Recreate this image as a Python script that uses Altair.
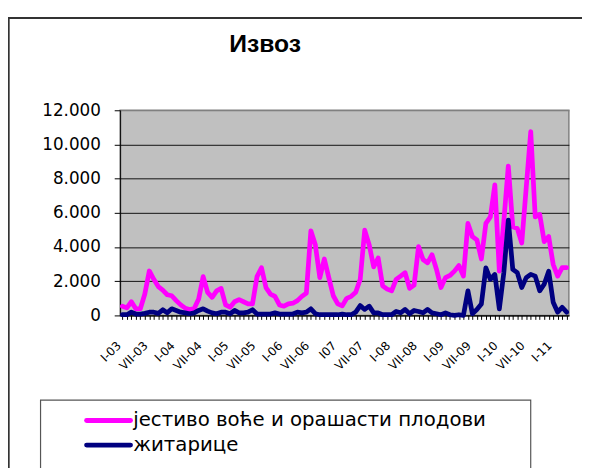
import altair as alt
import pandas as pd

roman = ["I", "II", "III", "IV", "V", "VI", "VII", "VIII", "IX", "X", "XI", "XII"]
years = ["03", "04", "05", "06", "07", "08", "09", "10", "11"]

chart_title = "Извоз"
series_names = ["јестиво воће и орашасти плодови", "житарице"]
series_colors = ["#FF00FF", "#000080"]

fruit = [540, 440, 800, 385, 390, 1250, 2600, 2110, 1690, 1480,
         1210, 1150, 865, 615, 425, 345, 400, 960, 2270, 1350,
         1060, 1440, 1580, 615, 480, 800, 920, 800, 675, 675,
         2270, 2790, 1630, 1250, 1115, 615, 540, 675, 715, 865,
         1115, 1310, 4950, 4130, 2210, 3300, 2210, 1150, 675, 560,
         1000, 1115, 1350, 2110, 4990, 4130, 2840, 3360, 1730, 1540,
         1440, 2110, 2300, 2500, 1580, 1770, 4030, 3270, 3075, 3550,
         2690, 1630, 2210, 2340, 2590, 2920, 2300, 5380, 4610, 4420,
         3300, 5380, 5760, 7640, 2590, 5500, 8740, 5180, 5090, 4230,
         7500, 10750, 5760, 5910, 4320, 4610, 2980, 2300, 2790, 2790]

grain = [40, 40, 190, 80, 80, 120, 190, 190, 120, 330,
         150, 385, 290, 190, 150, 100, 150, 290, 385, 250,
         150, 100, 190, 190, 100, 290, 150, 150, 190, 330,
         80, 80, 80, 80, 150, 80, 80, 80, 80, 190,
         150, 190, 385, 100, 40, 40, 40, 40, 40, 80,
         40, 40, 190, 575, 350, 540, 150, 150, 40, 40,
         40, 230, 150, 350, 100, 290, 230, 150, 350, 150,
         100, 40, 150, 40, 0, 40, 0, 1440, 100, 350,
         670, 2780, 2110, 2400, 385, 2500, 5570, 2690, 2500, 1630,
         2210, 2400, 2300, 1440, 1825, 2590, 770, 190, 480, 190]

y_ticks = [0, 2000, 4000, 6000, 8000, 10000, 12000]

months = [f"{r}-{y}" for y in years for r in roman][:len(fruit)]
months[48] = "I07"

rows = []
for i, m in enumerate(months):
    rows.append({"month": m, "series": series_names[0], "value": fruit[i]})
    rows.append({"month": m, "series": series_names[1], "value": grain[i]})
df = pd.DataFrame(rows)

W, H = 455, 208

x_enc = alt.X(
    "month:N", sort=months,
    scale=alt.Scale(type="point", padding=0.5),
    axis=alt.Axis(
        title=None, labelAngle=-45, labelAlign="right", labelBaseline="middle",
        labelExpr="test(/^(I|VII)-?[0-9][0-9]$/, datum.label) ? datum.label : ''",
        labelFont="DejaVu Sans", labelFontSize=12, labelColor="black",
        labelOverlap=False, labelPadding=24, labelOffset=-4,
        tickColor="black", tickSize=4, domainColor="black", grid=False,
    ),
)
y_enc = alt.Y(
    "value:Q",
    scale=alt.Scale(domain=[0, 12000]),
    axis=alt.Axis(
        title=None, values=y_ticks,
        labelExpr="replace(format(datum.value, ','), ',', '.')",
        labelFont="DejaVu Sans", labelFontSize=17, labelColor="black", labelPadding=14,
        tickColor="black", tickSize=6, domainColor="black",
        gridColor={"condition": {"test": "datum.value == 12000", "value": "#808080"}, "value": "#111111"},
        gridWidth=1,
    ),
)
color_enc = alt.Color(
    "series:N",
    scale=alt.Scale(domain=series_names, range=series_colors),
    legend=None,
)

base = alt.Chart(df)
layers = []
for name in series_names:
    layers.append(
        base.transform_filter(alt.datum.series == name).mark_line(
            strokeWidth=4.8, strokeJoin="round", strokeCap="round"
        ).encode(x=x_enc, y=y_enc, color=color_enc)
    )

# legend (drawn as marks so that the row spacing matches)
for k, name in enumerate(series_names):
    ldf = pd.DataFrame({"s": [name]})
    row_y = 314.5 + 25 * k
    layers.append(
        alt.Chart(ldf).mark_rule(color=series_colors[k], strokeWidth=5, strokeCap="round").encode(
            x=alt.value(-34), x2=alt.value(10.5), y=alt.value(row_y)
        )
    )
    layers.append(
        alt.Chart(ldf).mark_text(
            font="DejaVu Sans", fontSize=20, color="black", align="left", baseline="middle"
        ).encode(text="s:N", x=alt.value(13.3), y=alt.value(row_y))
    )

deco = pd.DataFrame({"t": [chart_title]})
layers.append(
    alt.Chart(deco).mark_text(
        font="Liberation Sans", fontSize=25, fontWeight="bold", color="black",
        align="center", baseline="alphabetic",
    ).encode(text="t:N", x=alt.value(147), y=alt.value(-59))
)
layers.append(
    alt.Chart(deco).mark_rect(filled=False, stroke="#555555", strokeWidth=1.2).encode(
        x=alt.value(-80.7), x2=alt.value(416.3), y=alt.value(293.8), y2=alt.value(400)
    )
)
layers.append(
    alt.Chart(deco).mark_rect(filled=False, stroke="#333333", strokeWidth=2).encode(
        x=alt.value(-113), x2=alt.value(500), y=alt.value(-93.5), y2=alt.value(400)
    )
)

chart = alt.layer(*layers).properties(
    width=W, height=H,
    autosize=alt.AutoSizeParams(type="none"),
    padding={"left": 113.7, "top": 100.5, "right": 13.3, "bottom": 151.5},
).configure_view(
    fill="#C0C0C0", stroke="#808080", strokeWidth=1.5
)

chart.save("out.html", embed_options={"renderer": "svg", "actions": False})
